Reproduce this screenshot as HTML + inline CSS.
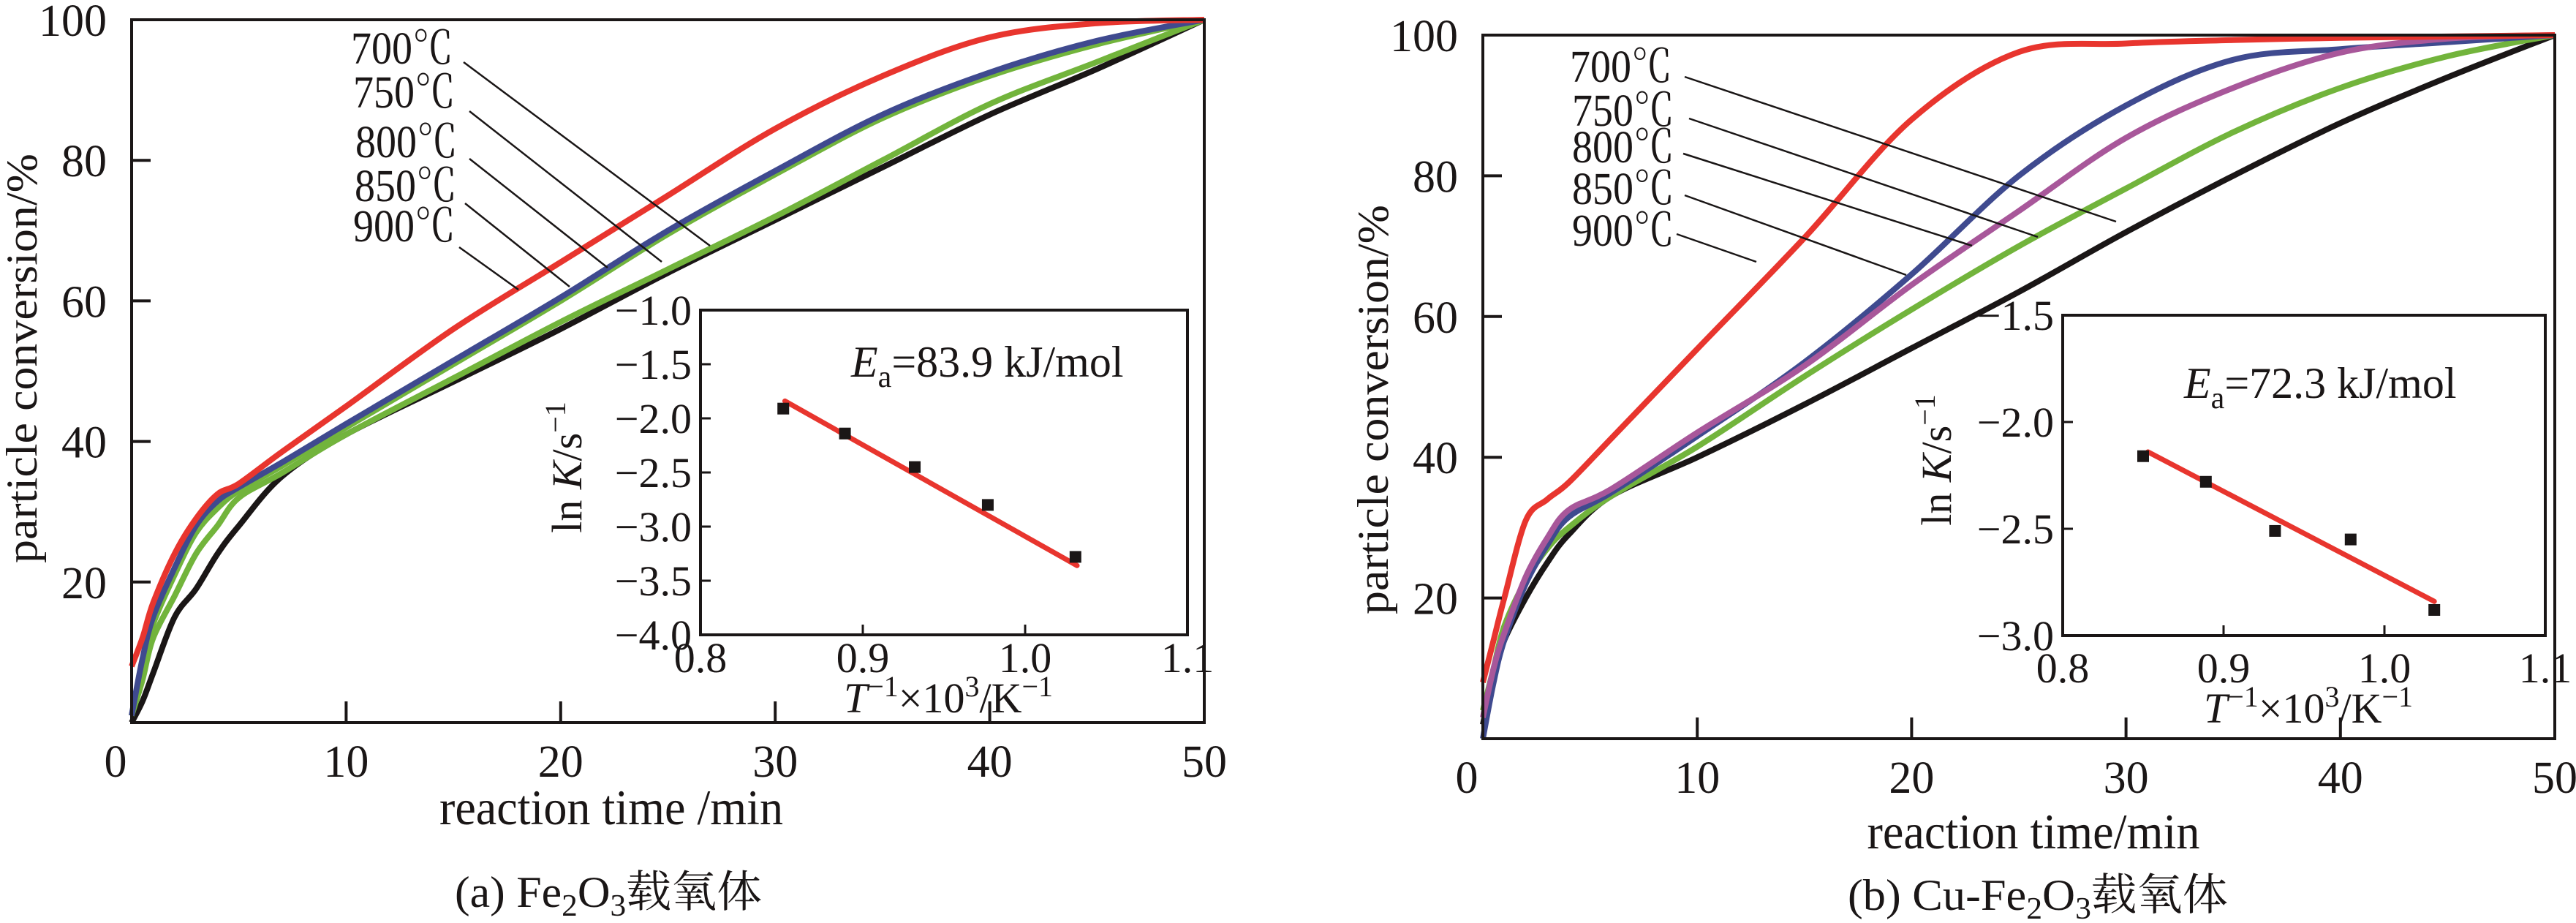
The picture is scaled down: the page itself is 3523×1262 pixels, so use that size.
<!DOCTYPE html>
<html><head><meta charset="utf-8"><style>
html,body{margin:0;padding:0;background:#fff;}
svg{display:block;}
text{font-family:"Liberation Serif","Noto Serif CJK SC",serif;fill:#1a1616;}
</style></head><body>
<svg id="fig" width="3523" height="1262" viewBox="0 0 3523 1262" xmlns="http://www.w3.org/2000/svg"></svg>
<script>
// ---------- data: panel (a) ----------
const timesA = [0,0.5,1,2,3,4,5,7,10,15,20,25,30,35,40,45,50];
const a700 = [8,12,17,24,29,32.5,34,38.5,45,56,65.5,75,84.5,92,97.5,99.5,100];
const a750 = [1,9,15,22,28,31.5,33.5,37,42.5,51.5,60.5,70,78.5,86.5,92.5,97,100];
const a800 = [1,8,14,21,27,30.5,33,36.5,42,51,60,69.5,78,86,92,96.5,100];
const a850 = [1,6,12,18,24,28,32,35.5,41,49,57,64.5,72,80,88,94,100];
const a900 = [0,3,7,15,19,24,28,35,41,48.5,56,64,71.5,79,86.5,93,100];
const insetAx = [0.851,0.889,0.932,0.977,1.031];
const insetAy = [-1.91,-2.14,-2.45,-2.80,-3.28];
const fitAx = [0.852,1.032];
const fitAy = [-1.84,-3.36];
// ---------- data: panel (b) ----------
const timesB = [0,0.5,1,2,3,4,6,10,15,20,25,30,35,40,45,50];
const b700 = [8,14,20,31,34,36.4,42.7,55.4,71.2,88,97.6,98.8,99.3,99.6,99.8,100];
const b750 = [0,8,14,22,27.5,31.5,35,43,53.5,66,80,90,96.5,98,99,100];
const b800 = [3,10,15,23,28.5,32.5,35.5,43.5,53,64.5,75,85.4,92.5,97.5,99.5,100];
const b850 = [4,10,16,22.5,27,30,34.5,41.5,51.5,61,70,78.2,86.2,92.5,97,100];
const b900 = [2,9,14,20,25,29,34.5,40,47.5,55.5,63.5,72,80,87.5,94,100];
const insetBx = [0.850,0.889,0.932,0.979,1.031];
const insetBy = [-2.16,-2.28,-2.51,-2.55,-2.88];
const fitBx = [0.853,1.031];
const fitBy = [-2.14,-2.84];
// ---------- ticks ----------
const xTicks = [0,10,20,30,40,50];
const yTicks = [20,40,60,80,100];
const insetXTicks = [0.8,0.9,1.0,1.1];
const insetAYTicks = [-1.0,-1.5,-2.0,-2.5,-3.0,-3.5,-4.0];
const insetBYTicks = [-1.5,-2.0,-2.5,-3.0];
const tempLabels = ["700℃","750℃","800℃","850℃","900℃"];

const NS="http://www.w3.org/2000/svg";
const svg=document.getElementById('fig');
function mk(tag,attrs,parent){const e=document.createElementNS(NS,tag);for(const k in attrs)e.setAttribute(k,attrs[k]);(parent||svg).appendChild(e);return e;}
function lin(d0,d1,r0,r1){return v=>r0+(v-d0)*(r1-r0)/(d1-d0);}
function smooth(pts){let d="M"+pts[0][0]+","+pts[0][1];for(let i=0;i<pts.length-1;i++){const p0=pts[Math.max(0,i-1)],p1=pts[i],p2=pts[i+1],p3=pts[Math.min(pts.length-1,i+2)];const c1x=p1[0]+(p2[0]-p0[0])/6,c1y=p1[1]+(p2[1]-p0[1])/6,c2x=p2[0]-(p3[0]-p1[0])/6,c2y=p2[1]-(p3[1]-p1[1])/6;d+=" C"+c1x.toFixed(1)+","+c1y.toFixed(1)+" "+c2x.toFixed(1)+","+c2y.toFixed(1)+" "+p2[0].toFixed(1)+","+p2[1].toFixed(1);}return d;}
function txt(s,x,y,size,anchor,parent,extra){const t=mk('text',Object.assign({x:x,y:y,'font-size':size,'text-anchor':anchor||'start'},extra||{}),parent);t.textContent=s;return t;}

function panel(cfg){
  const g=mk('g',{});
  
  
  const X=lin(0,50,cfg.L,cfg.R), Y=lin(0,100,cfg.B,cfg.T);
  cfg.series.forEach((s,i)=>{
    const pts=cfg.times.map((t,j)=>[X(t),Y(s.v[j])]);
    const p=mk('path',{d:smooth(pts),fill:'none',stroke:s.c,'stroke-width':8,'stroke-linejoin':'round'},g);
    
    
  });
  const fr=mk('rect',{x:cfg.L,y:cfg.T,width:cfg.R-cfg.L,height:cfg.B-cfg.T,fill:'none',stroke:'#1a1616','stroke-width':4},g);
  
  
  xTicks.forEach(v=>{
    if(v>0&&v<50){const tk=mk('line',{x1:X(v),x2:X(v),y1:cfg.B,y2:cfg.B-29,stroke:'#1a1616','stroke-width':4},g);}
    const t=txt(String(v),v===0?X(v)-22:X(v),cfg.B+74,62,'middle',g);
    
    
  });
  yTicks.forEach(v=>{
    if(v<100){const tk=mk('line',{x1:cfg.L,x2:cfg.L+26,y1:Y(v),y2:Y(v),stroke:'#1a1616','stroke-width':4},g);}
    const t=txt(String(v),cfg.L-34,Y(v)+22,62,'end',g);
    
    
  });
  const xt=txt(cfg.xTitle,cfg.xtx,cfg.xty,68,'middle',g,{textLength:cfg.xtw,lengthAdjust:'spacingAndGlyphs'});
  
  
  const yt=txt('particle conversion/%',0,0,60,'middle',g,{transform:'translate('+cfg.ytx+','+cfg.yty+') rotate(-90)',textLength:560,lengthAdjust:'spacingAndGlyphs'});
  
  
  cfg.labels.forEach((lb,i)=>{
    const t=txt(tempLabels[i],lb[0],lb[1],62,'start',g,{textLength:140,lengthAdjust:'spacingAndGlyphs'});
    
    
    const l=mk('line',{x1:lb[2],y1:lb[3],x2:lb[4],y2:lb[5],stroke:'#1a1616','stroke-width':2.5},g);
    
    
  });
  const I=cfg.inset;
  const ig=mk('g',{},g);
  
  
  const IX=lin(0.8,1.1,I.L,I.R), IY=lin(I.y0,I.y1,I.T,I.B);
  const bg=mk('rect',{x:I.L,y:I.T,width:I.R-I.L,height:I.B-I.T,fill:'#fff',stroke:'#1a1616','stroke-width':4},ig);
  
  
  insetXTicks.forEach(v=>{
    if(v>0.85&&v<1.05){const tk=mk('line',{x1:IX(v),x2:IX(v),y1:I.B,y2:I.B-14,stroke:'#1a1616','stroke-width':3},ig);}
    const t=txt(v.toFixed(1),IX(v),I.xly,58,'middle',ig);
    
    
  });
  I.yt.forEach(v=>{
    const tk=mk('line',{x1:I.L,x2:I.L+14,y1:IY(v),y2:IY(v),stroke:'#1a1616','stroke-width':3},ig);
    
    
    const t=txt('\u2212'+Math.abs(v).toFixed(1),I.L-12,IY(v)+20,58,'end',ig);
    
    
  });
  const fit=mk('line',{x1:IX(I.fx[0]),y1:IY(I.fy[0]),x2:IX(I.fx[1]),y2:IY(I.fy[1]),stroke:'#e8352e','stroke-width':7,'stroke-linecap':'round'},ig);
  
  
  I.px.forEach((x,j)=>{
    const r=mk('rect',{x:IX(x)-8,y:IY(I.py[j])-8,width:16,height:16,fill:'#1a1616'},ig);
    
    
  });
  const ea=mk('text',{x:I.eax,y:I.eay,'font-size':60},ig);
  
  
  ea.innerHTML='<tspan font-style="italic">E</tspan><tspan font-size="42" dy="14">a</tspan><tspan dy="-14">='+I.ea+' kJ/mol</tspan>';
  const ixt=mk('text',{x:I.xtx,y:I.xty,'font-size':58,'text-anchor':'middle'},ig);
  
  
  ixt.innerHTML='<tspan font-style="italic">T</tspan><tspan font-size="40" dy="-22">\u22121</tspan><tspan dy="22">×10</tspan><tspan font-size="40" dy="-22">3</tspan><tspan dy="22">/K</tspan><tspan font-size="40" dy="-22">\u22121</tspan>';
  const iyt=mk('text',{x:0,y:0,'font-size':58,'text-anchor':'middle',transform:'translate('+I.ytx+','+I.yty+') rotate(-90)'},ig);
  
  
  iyt.innerHTML='ln <tspan font-style="italic">K</tspan>/s<tspan font-size="40" dy="-22">\u22121</tspan>';
  const cap=mk('text',{x:cfg.capx,y:cfg.capy,'font-size':60,'text-anchor':'middle',textLength:cfg.capw,lengthAdjust:'spacingAndGlyphs'},g);
  
  
  cap.innerHTML=cfg.cap;
}

panel({name:'panel-a-fe2o3',L:180,R:1647,T:27,B:988,times:timesA,
  series:[{n:'900',v:a900,c:'#1a1616'},{n:'850',v:a850,c:'#72b43c'},{n:'800',v:a800,c:'#72b43c'},{n:'750',v:a750,c:'#3f4a8f'},{n:'700',v:a700,c:'#e8352e'}],
  xTitle:'reaction time /min',xtx:836,xty:1127,xtw:470,ytx:50,yty:490,
  labels:[[480,87,634,85,971,336],[483,147,642,152,905,358],[486,215,642,217,831,366],[485,275,636,278,779,392],[483,330,628,338,709,396]],
  inset:{L:958,R:1624,T:424,B:868,y0:-1.0,y1:-4.0,yt:insetAYTicks,xly:919,px:insetAx,py:insetAy,fx:fitAx,fy:fitAy,
    ea:'83.9',eax:1164,eay:515,xtx:1297,xty:974,ytx:795,yty:639},
  capx:832,capy:1240,capw:420,cap:'(a) Fe<tspan font-size="42" dy="12">2</tspan><tspan dy="-12">O</tspan><tspan font-size="42" dy="12">3</tspan><tspan dy="-12">载氧体</tspan>'});

panel({name:'panel-b-cu-fe2o3',L:2028,R:3494,T:48,B:1010,times:timesB,
  series:[{n:'900',v:b900,c:'#1a1616'},{n:'850',v:b850,c:'#72b43c'},{n:'750',v:b750,c:'#3f4a8f'},{n:'800',v:b800,c:'#a8579a'},{n:'700',v:b700,c:'#e8352e'}],
  xTitle:'reaction time/min',xtx:2781,xty:1160,xtw:455,ytx:1898,yty:560,
  labels:[[2147,112,2304,105,2894,303],[2150,172,2310,162,2787,324],[2150,222,2302,210,2697,336],[2150,279,2304,267,2607,376],[2150,336,2293,320,2402,358]],
  inset:{L:2821,R:3481,T:431,B:869,y0:-1.5,y1:-3.0,yt:insetBYTicks,xly:933,px:insetBx,py:insetBy,fx:fitBx,fy:fitBy,
    ea:'72.3',eax:2987,eay:544,xtx:3157,xty:988,ytx:2668,yty:629},
  capx:2787,capy:1244,capw:520,cap:'(b) Cu-Fe<tspan font-size="42" dy="12">2</tspan><tspan dy="-12">O</tspan><tspan font-size="42" dy="12">3</tspan><tspan dy="-12">载氧体</tspan>'});
</script>
</body></html>
